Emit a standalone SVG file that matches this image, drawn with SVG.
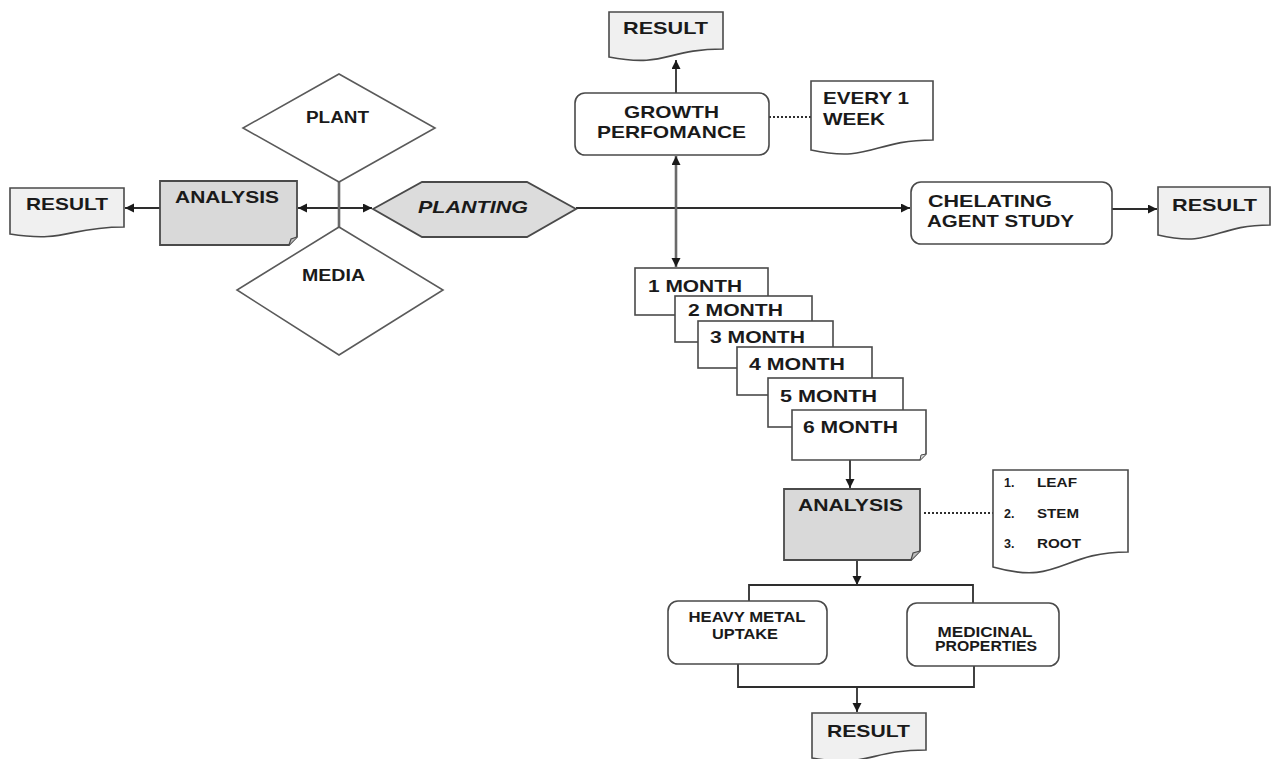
<svg xmlns="http://www.w3.org/2000/svg" width="1273" height="759" viewBox="0 0 1273 759">
<style>
.t{font-family:"Liberation Sans",Arial,sans-serif;font-weight:bold;fill:#1a1a1a}
.f17{font-size:17px}
.f16{font-size:16px}
.f14{font-size:14px}
.f12{font-size:12.5px}
.doc{fill:#f0f0f0;stroke:#4a4a4a;stroke-width:1.6}
.wdoc{fill:#fff;stroke:#4a4a4a;stroke-width:1.6}
.gray{fill:#d9d9d9;stroke:#4a4a4a;stroke-width:1.8}
.wbox{fill:#fff;stroke:#4a4a4a;stroke-width:1.6}
.dia{fill:#fff;stroke:#5a5a5a;stroke-width:1.6}
.c{fill:none;stroke:#2e2e2e;stroke-width:1.8}
.cg{fill:none;stroke:#6a6a6a;stroke-width:2.6}
.dot{fill:none;stroke:#2e2e2e;stroke-width:2;stroke-dasharray:2,2}
</style>
<defs>
<marker id="arr" markerUnits="userSpaceOnUse" markerWidth="10" markerHeight="10" refX="9" refY="4.5" orient="auto-start-reverse">
<path d="M0,0 L9,4.5 L0,9 z" fill="#1a1a1a"/>
</marker>
</defs>

<g id="connectors">
<line class="c" x1="160" y1="208" x2="125" y2="208" marker-end="url(#arr)"/>
<line class="c" x1="298" y1="208" x2="372" y2="208" marker-start="url(#arr)" marker-end="url(#arr)"/>
<line class="cg" x1="339" y1="182" x2="339" y2="227"/>
<line class="c" x1="576" y1="208" x2="910" y2="208" marker-end="url(#arr)"/>
<line class="c" x1="1112" y1="209" x2="1157" y2="209" marker-end="url(#arr)"/>
<line class="c" x1="676" y1="93" x2="676" y2="60" marker-end="url(#arr)"/>
<line class="cg" x1="676" y1="156" x2="676" y2="267" marker-start="url(#arr)" marker-end="url(#arr)"/>
<line class="dot" x1="769" y1="117" x2="811" y2="117"/>
<line class="c" x1="850" y1="460" x2="850" y2="488" marker-end="url(#arr)"/>
<line class="dot" x1="924" y1="513" x2="993" y2="513"/>
<line class="c" x1="857" y1="560" x2="857" y2="585" marker-end="url(#arr)"/>
<polyline class="c" points="749,601 749,585 973,585 973,603"/>
<polyline class="c" points="738,664 738,687 974,687 974,666"/>
<line class="c" x1="857" y1="687" x2="857" y2="712" marker-end="url(#arr)"/>
</g>

<g id="result-left">
<path class="doc" d="M10,188 H124 V227 C67,227 67,243 10,234 Z"/>
<text class="t f17" x="26" y="210" textLength="82" lengthAdjust="spacingAndGlyphs">RESULT</text>
</g>

<g id="analysis-left">
<path class="gray" d="M160,181 H297 V237 L289,245 H160 Z"/>
<path d="M297,237 L291,239 L289,245" fill="#bdbdbd" stroke="#4a4a4a" stroke-width="1.2"/>
<text class="t f17" x="175" y="203" textLength="104" lengthAdjust="spacingAndGlyphs">ANALYSIS</text>
</g>

<g id="plant">
<polygon class="dia" points="339,74 435,128 339,182 243,128"/>
<text class="t f16" x="306" y="123" textLength="63" lengthAdjust="spacingAndGlyphs">PLANT</text>
</g>

<g id="media">
<polygon class="dia" points="339,227 443,290 339,355 237,290"/>
<text class="t f17" x="302" y="281" textLength="63" lengthAdjust="spacingAndGlyphs">MEDIA</text>
</g>

<g id="planting">
<polygon fill="#dcdcdc" stroke="#4a4a4a" stroke-width="1.8" points="373,209 422,182 527,182 576,209 527,237 422,237"/>
<text class="t f17" x="418" y="213" font-style="italic" textLength="110" lengthAdjust="spacingAndGlyphs">PLANTING</text>
</g>

<g id="result-top">
<path class="doc" d="M609,12 H723 V49 C666,49 666,68 609,57 Z"/>
<text class="t f17" x="623" y="34" textLength="85" lengthAdjust="spacingAndGlyphs">RESULT</text>
</g>

<g id="growth">
<rect class="wbox" x="575" y="93" width="194" height="62" rx="10"/>
<text class="t f17" x="624" y="118" textLength="95" lengthAdjust="spacingAndGlyphs">GROWTH</text>
<text class="t f17" x="597" y="138" textLength="149" lengthAdjust="spacingAndGlyphs">PERFOMANCE</text>
</g>

<g id="every-week">
<path class="wdoc" d="M811,81 H933 V140 C872,140 872,163 811,150 Z"/>
<text class="t f17" x="823" y="104" textLength="86" lengthAdjust="spacingAndGlyphs">EVERY 1</text>
<text class="t f17" x="823" y="125" textLength="62" lengthAdjust="spacingAndGlyphs">WEEK</text>
</g>

<g id="chelating">
<rect class="wbox" x="911" y="182" width="201" height="62" rx="10"/>
<text class="t f17" x="928" y="207" textLength="124" lengthAdjust="spacingAndGlyphs">CHELATING</text>
<text class="t f17" x="927" y="227" textLength="147" lengthAdjust="spacingAndGlyphs">AGENT STUDY</text>
</g>

<g id="result-right">
<path class="doc" d="M1158,187 H1270 V225 C1214,225 1214,248 1158,235 Z"/>
<text class="t f17" x="1172" y="211" textLength="85" lengthAdjust="spacingAndGlyphs">RESULT</text>
</g>

<g id="month1">
<rect class="wbox" x="635" y="268" width="133" height="47"/>
<text class="t f17" x="648" y="292" textLength="94" lengthAdjust="spacingAndGlyphs">1 MONTH</text>
</g>
<g id="month2">
<rect class="wbox" x="675" y="296" width="137" height="46"/>
<text class="t f17" x="688" y="316" textLength="95" lengthAdjust="spacingAndGlyphs">2 MONTH</text>
</g>
<g id="month3">
<rect class="wbox" x="698" y="321" width="135" height="47"/>
<text class="t f17" x="710" y="343" textLength="95" lengthAdjust="spacingAndGlyphs">3 MONTH</text>
</g>
<g id="month4">
<rect class="wbox" x="737" y="347" width="135" height="48"/>
<text class="t f17" x="749" y="370" textLength="96" lengthAdjust="spacingAndGlyphs">4 MONTH</text>
</g>
<g id="month5">
<rect class="wbox" x="768" y="378" width="135" height="49"/>
<text class="t f17" x="780" y="402" textLength="97" lengthAdjust="spacingAndGlyphs">5 MONTH</text>
</g>
<g id="month6">
<path class="wbox" d="M792,410 H926 V454 L920,460 H792 Z"/>
<path d="M926,454 L921,455 L920,460" fill="#ddd" stroke="#4a4a4a" stroke-width="1"/>
<text class="t f17" x="803" y="433" textLength="95" lengthAdjust="spacingAndGlyphs">6 MONTH</text>
</g>

<g id="analysis-lower">
<path class="gray" d="M784,489 H920 V551 L911,560 H784 Z"/>
<path d="M920,551 L913,553 L911,560" fill="#bdbdbd" stroke="#4a4a4a" stroke-width="1.2"/>
<text class="t f17" x="798" y="511" textLength="105" lengthAdjust="spacingAndGlyphs">ANALYSIS</text>
</g>

<g id="parts-list">
<path class="wdoc" d="M993,470 H1128 V552 C1060,552 1060,586 993,567 Z"/>
<text class="t f12" x="1004" y="487">1.</text>
<text class="t f12" x="1037" y="487" textLength="40" lengthAdjust="spacingAndGlyphs">LEAF</text>
<text class="t f12" x="1004" y="518">2.</text>
<text class="t f12" x="1037" y="518" textLength="42" lengthAdjust="spacingAndGlyphs">STEM</text>
<text class="t f12" x="1004" y="548">3.</text>
<text class="t f12" x="1037" y="548" textLength="44" lengthAdjust="spacingAndGlyphs">ROOT</text>
</g>

<g id="heavy-metal">
<rect class="wbox" x="668" y="601" width="159" height="63" rx="10"/>
<text class="t f14" x="747" y="622" text-anchor="middle" textLength="117" lengthAdjust="spacingAndGlyphs">HEAVY METAL</text>
<text class="t f14" x="745" y="639" text-anchor="middle" textLength="66" lengthAdjust="spacingAndGlyphs">UPTAKE</text>
</g>

<g id="medicinal">
<rect class="wbox" x="907" y="603" width="152" height="63" rx="10"/>
<text class="t f14" x="985" y="637" text-anchor="middle" textLength="95" lengthAdjust="spacingAndGlyphs">MEDICINAL</text>
<text class="t f14" x="986" y="651" text-anchor="middle" textLength="102" lengthAdjust="spacingAndGlyphs">PROPERTIES</text>
</g>

<g id="result-bottom">
<path class="doc" d="M812,713 H926 V750 C869,750 869,768 812,758 Z"/>
<text class="t f17" x="827" y="737" textLength="83" lengthAdjust="spacingAndGlyphs">RESULT</text>
</g>
</svg>
